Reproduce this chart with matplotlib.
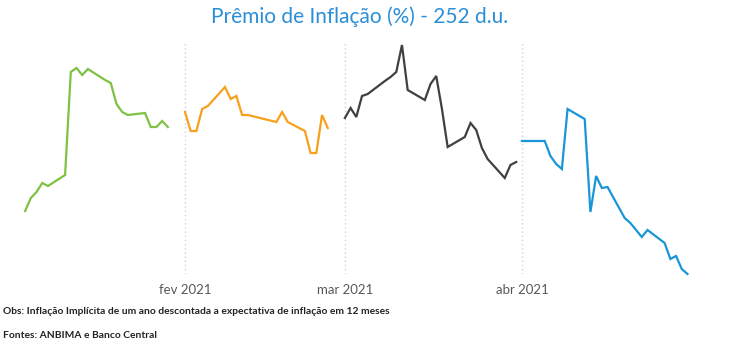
import numpy as np
import pandas as pd
import matplotlib
matplotlib.use("Agg")
import matplotlib.pyplot as plt
import matplotlib.dates as mdates

plt.rcParams['font.family'] = ['Lato', 'DejaVu Sans']

# --- data (premio de inflacao, % a.a.) ---
jan_dates = ['2021-01-04', '2021-01-05', '2021-01-06', '2021-01-07', '2021-01-08',
             '2021-01-11', '2021-01-12', '2021-01-13', '2021-01-14', '2021-01-15',
             '2021-01-18', '2021-01-19', '2021-01-20', '2021-01-21', '2021-01-22',
             '2021-01-25', '2021-01-26', '2021-01-27', '2021-01-28', '2021-01-29']
jan_vals = [0.89, 1.02, 1.08, 1.17, 1.14, 1.25, 2.28, 2.32, 2.25, 2.31,
            2.20, 2.17, 1.96, 1.88, 1.85, 1.87, 1.73, 1.73, 1.79, 1.73]

fev_dates = ['2021-02-01', '2021-02-02', '2021-02-03', '2021-02-04', '2021-02-05',
             '2021-02-08', '2021-02-09', '2021-02-10', '2021-02-11', '2021-02-12',
             '2021-02-17', '2021-02-18', '2021-02-19', '2021-02-22', '2021-02-23',
             '2021-02-24', '2021-02-25', '2021-02-26']
fev_vals = [1.88, 1.69, 1.69, 1.91, 1.94, 2.13, 2.01, 2.04, 1.85, 1.85,
            1.78, 1.88, 1.78, 1.69, 1.47, 1.47, 1.85, 1.72]

mar_dates = ['2021-03-01', '2021-03-02', '2021-03-03', '2021-03-04', '2021-03-05',
             '2021-03-08', '2021-03-09', '2021-03-10', '2021-03-11', '2021-03-12',
             '2021-03-15', '2021-03-16', '2021-03-17', '2021-03-18', '2021-03-19',
             '2021-03-22', '2021-03-23', '2021-03-24', '2021-03-25', '2021-03-26',
             '2021-03-29', '2021-03-30', '2021-03-31']
mar_vals = [1.82, 1.92, 1.83, 2.04, 2.06, 2.19, 2.23, 2.28, 2.55, 2.10,
            2.00, 2.16, 2.24, 1.91, 1.53, 1.63, 1.77, 1.70, 1.52, 1.41,
            1.22, 1.35, 1.38]

abr_dates = ['2021-04-01', '2021-04-05', '2021-04-06', '2021-04-07', '2021-04-08',
             '2021-04-09', '2021-04-12', '2021-04-13', '2021-04-14', '2021-04-15',
             '2021-04-16', '2021-04-19', '2021-04-20', '2021-04-22', '2021-04-23',
             '2021-04-26', '2021-04-27', '2021-04-28', '2021-04-29', '2021-04-30']
abr_vals = [1.59, 1.59, 1.44, 1.36, 1.31, 1.91, 1.81, 0.88, 1.24, 1.12,
            1.13, 0.82, 0.77, 0.63, 0.70, 0.57, 0.41, 0.44, 0.31, 0.26]

series = [
    (jan_dates, jan_vals, '#7dc242'),
    (fev_dates, fev_vals, '#f7a01e'),
    (mar_dates, mar_vals, '#404040'),
    (abr_dates, abr_vals, '#1996d8'),
]

month_starts = ['2021-02-01', '2021-03-01', '2021-04-01']
month_labels = ['fev 2021', 'mar 2021', 'abr 2021']

# --- figure ---
fig = plt.figure(figsize=(7.5, 3.55), dpi=100)
ax = fig.add_axes([0.0, 1 - 274 / 355, 1.0, (274 - 42) / 355])

for dates, vals, color in series:
    ax.plot(pd.to_datetime(dates), vals, color=color, lw=1.6,
            solid_joinstyle='miter', clip_on=False)

for d in month_starts:
    ax.axvline(pd.Timestamp(d), color='#d4d4d4', ls=(0, (1, 2)), lw=1.0, zorder=0)

# x scale: fev 1 at px 185, 5.71 px per day
feb1 = mdates.date2num(pd.Timestamp('2021-02-01'))
ax.set_xlim(feb1 - 185 / 5.71, feb1 + (750 - 185) / 5.71)
ax.set_ylim(0.26, 2.58)

ax.set_xticks(pd.to_datetime(month_starts))
ax.set_xticklabels(month_labels)
ax.tick_params(axis='x', length=0, pad=7, labelsize=9.5, labelcolor='#595959')
ax.set_yticks([])
for s in ax.spines.values():
    s.set_visible(False)

fig.text(0.48, 1 - 17 / 355, 'Prêmio de Inflação (%) - 252 d.u.',
         color='#2a8fd6', fontsize=15, ha='center', va='center')
fig.text(0.004, 1 - 312 / 355,
         'Obs: Inflação Implícita de um ano descontada a expectativa de inflação em 12 meses',
         fontsize=7.4, fontweight='bold', color='#222222', ha='left', va='center')
fig.text(0.004, 1 - 335 / 355, 'Fontes: ANBIMA e Banco Central',
         fontsize=7.4, fontweight='bold', color='#222222', ha='left', va='center')

fig.savefig('out.png', dpi=100)
